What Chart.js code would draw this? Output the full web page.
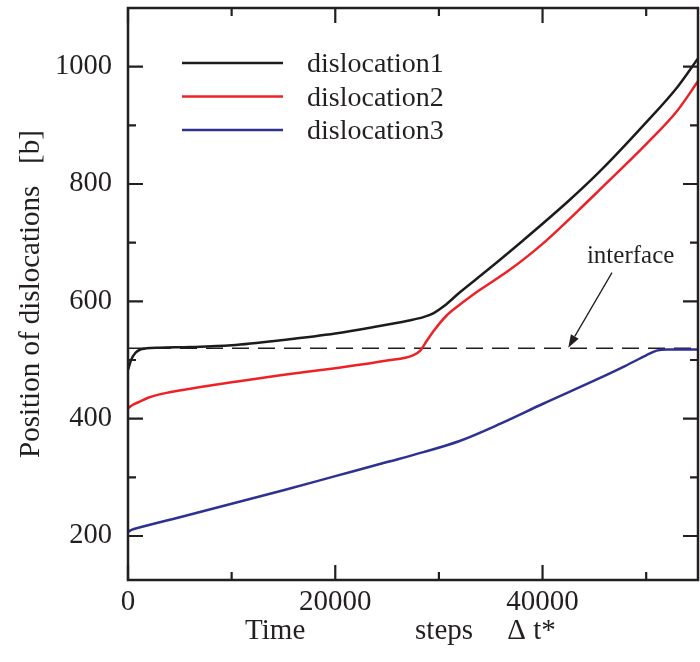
<!DOCTYPE html>
<html>
<head>
<meta charset="utf-8">
<script src="https://cdn.jsdelivr.net/npm/chart.js@4/dist/chart.umd.min.js"></script>
<style>
  html, body { margin: 0; padding: 0; background: #ffffff; }
  #wrap { width: 700px; height: 662px; }
</style>
</head>
<body>
<div id="wrap"><canvas id="c" width="700" height="662"></canvas></div>
<script>
// Time steps (Δt*) and positions [b] of each dislocation
const dislocation1Time = [0, 300, 700, 1200, 1800, 3000, 6000, 10000, 15000, 20000, 24000, 27000, 28500, 29500, 30500, 32000, 34600, 38000, 42500, 45500, 50000, 53000, 55000];
const dislocation1Pos  = [483, 500, 512, 518, 520, 521, 522, 525, 534, 545, 557, 567, 573, 580, 592, 615, 652, 702, 771, 821, 905, 965, 1014];

const dislocation2Time = [0, 500, 1000, 2000, 4000, 7000, 10000, 14700, 20000, 25000, 27500, 28200, 28800, 29600, 30700, 32000, 34000, 36700, 40000, 44400, 45500, 50000, 53000, 55000];
const dislocation2Pos  = [418, 424, 428, 436, 445, 454, 462, 474, 486, 499, 508, 516, 532, 552, 575, 594, 620, 652, 698, 771, 790, 868, 925, 975];

const dislocation3Time = [0, 400, 1000, 5000, 10000, 15000, 20000, 25000, 28500, 32000, 36000, 40000, 45500, 48000, 50000, 51000, 52000, 55000];
const dislocation3Pos  = [207, 211, 214, 232, 255, 278, 302, 326, 343, 362, 392, 425, 469, 490, 508, 516, 518, 518];

const seriesLabels = ['dislocation1', 'dislocation2', 'dislocation3'];
const seriesColors = ['#1c1c1c', '#ec2227', '#2e3192'];

// Interface position and its annotation
const interfacePos = 520;
const interfaceLabel = 'interface';
const interfaceLabelAt = [48500, 676];   // [time, position]
const arrowFrom = [46700, 649];
const arrowTo = [42480, 521];

const xTicks = [0, 20000, 40000];
const xMinorTicks = [10000, 30000, 50000];
const yTicks = [200, 400, 600, 800, 1000];
const yMinorTicks = [300, 500, 700, 900];
const xRange = [0, 55000];
const yRange = [125, 1100];

const xTitleWords = ['Time', 'steps', '\u0394 t*'];
const yTitle = 'Position of dislocations   [b]';

const SERIF = "'Liberation Serif', 'DejaVu Serif', serif";
const INK = '#231f20';

function pts(ts, vs) { return ts.map((t, i) => ({ x: t, y: vs[i] })); }

// Frame, inward tick marks, legend, interface annotation and x title
const decorations = {
  id: 'decorations',
  afterDatasetsDraw(chart) {
    const { ctx, chartArea: a, scales: { x, y } } = chart;
    ctx.save();
    ctx.strokeStyle = INK;
    ctx.lineWidth = 2.5;
    ctx.strokeRect(a.left, a.top, a.right - a.left, a.bottom - a.top);

    const major = 15, minor = 8;
    ctx.lineWidth = 2.2;
    ctx.beginPath();
    const xt = (v, len) => {
      const px = x.getPixelForValue(v);
      ctx.moveTo(px, a.bottom); ctx.lineTo(px, a.bottom - len);
      ctx.moveTo(px, a.top); ctx.lineTo(px, a.top + len);
    };
    const yt = (v, len) => {
      const py = y.getPixelForValue(v);
      ctx.moveTo(a.left, py); ctx.lineTo(a.left + len, py);
      ctx.moveTo(a.right, py); ctx.lineTo(a.right - len, py);
    };
    xTicks.forEach(v => xt(v, major));
    xMinorTicks.forEach(v => xt(v, minor));
    yTicks.forEach(v => yt(v, major));
    yMinorTicks.forEach(v => yt(v, minor));
    ctx.stroke();

    // legend
    ctx.font = '28px ' + SERIF;
    ctx.textBaseline = 'middle';
    ctx.textAlign = 'left';
    chart.data.datasets.forEach((ds, i) => {
      if (!seriesLabels.includes(ds.label)) return;
      const ly = a.top + 55 + i * 33.5;
      ctx.strokeStyle = ds.borderColor;
      ctx.lineWidth = 2.5;
      ctx.beginPath();
      ctx.moveTo(a.left + 54, ly); ctx.lineTo(a.left + 155, ly);
      ctx.stroke();
      ctx.fillStyle = INK;
      ctx.fillText(ds.label, a.left + 179, ly + 2);
    });

    // interface label and arrow
    ctx.font = '25px ' + SERIF;
    ctx.textAlign = 'center';
    ctx.fillStyle = INK;
    ctx.fillText(interfaceLabel, x.getPixelForValue(interfaceLabelAt[0]), y.getPixelForValue(interfaceLabelAt[1]));
    const x0 = x.getPixelForValue(arrowFrom[0]), y0 = y.getPixelForValue(arrowFrom[1]);
    const x1 = x.getPixelForValue(arrowTo[0]), y1 = y.getPixelForValue(arrowTo[1]);
    const ang = Math.atan2(y1 - y0, x1 - x0);
    const head = 13, half = 4.5;
    const bx = x1 - head * Math.cos(ang), by = y1 - head * Math.sin(ang);
    ctx.strokeStyle = INK;
    ctx.lineWidth = 1.3;
    ctx.beginPath();
    ctx.moveTo(x0, y0); ctx.lineTo(bx, by);
    ctx.stroke();
    ctx.beginPath();
    ctx.moveTo(x1, y1);
    ctx.lineTo(bx + half * Math.sin(ang), by - half * Math.cos(ang));
    ctx.lineTo(bx - half * Math.sin(ang), by + half * Math.cos(ang));
    ctx.closePath();
    ctx.fill();

    // x axis title, words spread under the axis
    ctx.font = '29px ' + SERIF;
    ctx.textAlign = 'left';
    ctx.textBaseline = 'alphabetic';
    const wordX = [x.getPixelForValue(11300), x.getPixelForValue(27700), x.getPixelForValue(36600)];
    xTitleWords.forEach((w, i) => ctx.fillText(w, wordX[i], 639));
    ctx.restore();
  }
};

const lineStyle = (label, color, data) => ({
  label, data,
  borderColor: color,
  backgroundColor: color,
  borderWidth: 2.5,
  pointRadius: 0,
  fill: false,
  cubicInterpolationMode: 'monotone'
});

new Chart(document.getElementById('c'), {
  type: 'line',
  data: {
    datasets: [
      lineStyle(seriesLabels[0], seriesColors[0], pts(dislocation1Time, dislocation1Pos)),
      lineStyle(seriesLabels[1], seriesColors[1], pts(dislocation2Time, dislocation2Pos)),
      lineStyle(seriesLabels[2], seriesColors[2], pts(dislocation3Time, dislocation3Pos)),
      {
        label: 'interface',
        data: [{ x: xRange[0], y: interfacePos }, { x: xRange[1], y: interfacePos }],
        borderColor: INK,
        borderWidth: 1.3,
        borderDash: [17, 9],
        pointRadius: 0,
        fill: false
      }
    ]
  },
  options: {
    responsive: false,
    animation: false,
    devicePixelRatio: 1,
    layout: { padding: { top: 8, right: 2, left: 0, bottom: 0 } },
    plugins: { legend: { display: false }, tooltip: { enabled: false } },
    scales: {
      x: {
        type: 'linear',
        min: xRange[0], max: xRange[1],
        grid: { display: false },
        border: { display: false },
        afterBuildTicks: s => { s.ticks = xTicks.map(v => ({ value: v })); },
        afterFit: s => { s.height = 82; s.paddingLeft = 0; s.paddingRight = 0; },
        ticks: {
          color: INK, padding: -3, maxRotation: 0, autoSkip: false,
          font: { family: SERIF, size: 29 },
          callback: v => String(v)
        }
      },
      y: {
        min: yRange[0], max: yRange[1],
        grid: { display: false },
        border: { display: false },
        afterBuildTicks: s => { s.ticks = yTicks.map(v => ({ value: v })); },
        afterFit: s => { s.width = 128; s.paddingTop = 0; s.paddingBottom = 0; },
        ticks: {
          color: INK, padding: 8, autoSkip: false,
          font: { family: SERIF, size: 28.5 },
          callback: v => String(v)
        },
        title: {
          display: true, text: yTitle, color: INK,
          font: { family: SERIF, size: 29 },
          padding: { top: 14, bottom: 0 }
        }
      }
    }
  },
  plugins: [decorations]
});
</script>
</body>
</html>
